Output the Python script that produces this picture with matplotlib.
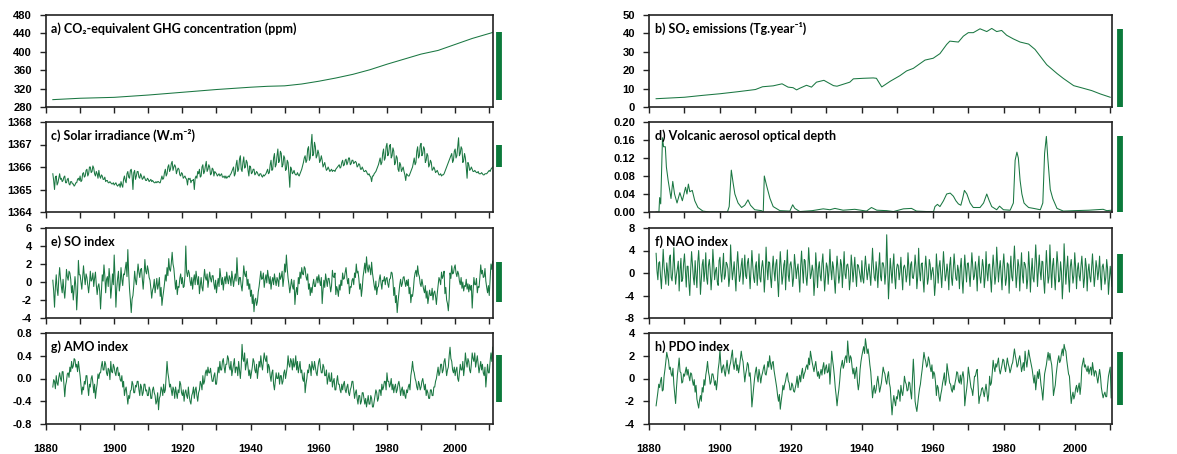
"""Eight-panel overview of climate forcings and modes of variability, 1880-2011."""

import numpy as np
import matplotlib
matplotlib.use("Agg")
import matplotlib.pyplot as plt
from matplotlib.ticker import MultipleLocator, FormatStrFormatter

LINE_GREEN = "#1a7742"
BAR_GREEN = "#0b7a3b"
TITLE_FONT = ["Lato", "DejaVu Sans"]

plt.rcParams["font.family"] = ["Liberation Sans", "DejaVu Sans"]
plt.rcParams["font.weight"] = "bold"
plt.rcParams["axes.unicode_minus"] = False

# ---- a) CO2-equivalent GHG concentration (ppm)
ghg_years = [1882, 1890, 1900, 1910, 1920, 1930, 1940, 1945, 1950, 1955, 1960,
             1965, 1970, 1975, 1980, 1985, 1990, 1995, 2000, 2005, 2011]
ghg_ppm = [296, 299, 301, 306, 312, 318, 323, 325, 326, 330, 336,
           343, 351, 361, 373, 384, 395, 403, 416, 429, 442]

# ---- b) SO2 emissions (Tg/yr)
so2_years = [1882, 1890, 1895, 1900, 1905, 1910, 1912, 1915, 1917.5, 1919.2, 1920.6,
             1921.6, 1922.5, 1924.4, 1925.8, 1927.2, 1929.3, 1932, 1933, 1936.6, 1937.6,
             1940.4, 1943.2, 1944.1, 1945.6, 1948, 1950.7, 1952.6, 1954.5, 1956.4, 1957.8,
             1960.1, 1962, 1963.9, 1964.8, 1967.2, 1968.6, 1970, 1971.4, 1973.3, 1975.2,
             1976.6, 1978, 1979.4, 1980.8, 1982.7, 1984.6, 1987, 1988.8, 1992.1, 1995,
             1996.8, 1999.7, 2002, 2004.8, 2007.2, 2010]
so2_tg = [4.5, 5.3, 6.3, 7.2, 8.3, 9.5, 11.0, 11.5, 12.6, 10.8, 10.5,
          9.3, 10.2, 11.8, 10.8, 13.5, 14.5, 11.6, 11.3, 13.5, 15.3,
          15.6, 15.8, 15.6, 10.9, 14.0, 17.0, 19.6, 21.0, 23.6, 25.5,
          26.5, 29.0, 34.0, 35.8, 35.3, 38.5, 40.4, 40.4, 42.5, 41.0,
          42.7, 41.0, 41.6, 39.0, 37.0, 35.3, 34.2, 31.3, 23.0, 18.2,
          15.5, 11.6, 10.4, 8.9, 7.1, 5.3]

# ---- c) Solar irradiance (W/m2), four values per year from 1882
solar_tsi = [
    1365.7, 1365.4, 1365.0, 1365.55, 1365.6, 1365.2, 1365.3, 1365.5,
    1365.7, 1365.45, 1365.5, 1365.35, 1365.4, 1365.55, 1365.6, 1365.3,
    1365.3, 1365.45, 1365.5, 1365.25, 1365.2, 1365.35, 1365.35, 1365.25,
    1365.25, 1365.15, 1365.2, 1365.3, 1365.3, 1365.45, 1365.5, 1365.4,
    1365.6, 1365.35, 1365.4, 1365.7, 1365.75, 1365.55, 1365.6, 1365.85,
    1365.9, 1365.6, 1365.7, 1366.0, 1366.0, 1365.75, 1365.8, 1366.05,
    1365.95, 1365.7, 1365.6, 1365.8, 1365.7, 1365.5, 1365.85, 1365.6,
    1365.5, 1365.65, 1365.6, 1365.45, 1365.45, 1365.55, 1365.35, 1365.4,
    1365.4, 1365.3, 1365.3, 1365.35, 1365.3, 1365.25, 1365.25, 1365.3,
    1365.2, 1365.25, 1365.3, 1365.2, 1365.15, 1365.2, 1365.25, 1365.1,
    1365.35, 1365.2, 1365.1, 1365.45, 1365.6, 1365.4, 1365.3, 1365.7,
    1365.8, 1365.55, 1365.5, 1365.85, 1365.9, 1365.6, 1365.0, 1365.75,
    1365.85, 1365.45, 1365.6, 1365.8, 1365.8, 1365.55, 1365.5, 1365.7,
    1365.6, 1365.45, 1365.5, 1365.6, 1365.5, 1365.4, 1365.4, 1365.5,
    1365.45, 1365.35, 1365.4, 1365.45, 1365.35, 1365.4, 1365.35, 1365.3,
    1365.3, 1365.35, 1365.3, 1365.35, 1365.35, 1365.3, 1365.3, 1365.45,
    1365.6, 1365.45, 1365.5, 1365.75, 1365.9, 1365.6, 1365.7, 1366.0,
    1366.1, 1365.8, 1365.9, 1366.15, 1366.25, 1365.85, 1366.0, 1366.1,
    1366.0, 1365.7, 1365.85, 1365.95, 1365.9, 1365.65, 1365.6, 1365.75,
    1365.7, 1365.5, 1365.55, 1365.6, 1365.5, 1365.45, 1365.2, 1365.5,
    1365.45, 1365.5, 1365.3, 1365.4, 1365.4, 1365.45, 1365.0, 1365.5,
    1365.6, 1365.5, 1365.8, 1365.7, 1365.9, 1365.55, 1365.6, 1366.0,
    1366.1, 1365.7, 1365.8, 1366.05, 1366.25, 1365.8, 1365.9, 1366.1,
    1366.0, 1365.65, 1365.7, 1365.95, 1365.9, 1365.6, 1365.8, 1365.75,
    1365.7, 1365.6, 1365.65, 1365.7, 1365.6, 1365.65, 1365.7, 1365.55,
    1365.55, 1365.6, 1365.5, 1365.6, 1365.5, 1365.55, 1365.6, 1365.55,
    1365.65, 1365.7, 1365.8, 1365.9, 1366.0, 1365.6, 1365.7, 1366.1,
    1366.3, 1365.8, 1365.9, 1366.35, 1366.5, 1365.9, 1365.8, 1366.2,
    1366.45, 1365.95, 1366.0, 1366.3, 1366.2, 1365.85, 1365.6, 1366.05,
    1366.0, 1365.7, 1365.75, 1365.9, 1365.9, 1365.65, 1365.7, 1365.8,
    1365.75, 1365.65, 1365.6, 1365.7, 1365.7, 1365.6, 1365.55, 1365.65,
    1365.6, 1365.65, 1365.7, 1365.8, 1365.9, 1365.7, 1365.75, 1366.1,
    1366.3, 1365.85, 1365.9, 1366.4, 1366.6, 1366.0, 1366.1, 1366.5,
    1366.8, 1366.2, 1366.3, 1366.7, 1366.6, 1366.0, 1366.1, 1366.5,
    1366.4, 1365.85, 1365.9, 1366.3, 1366.2, 1365.7, 1365.1, 1366.0,
    1365.9, 1365.7, 1365.75, 1365.85, 1365.7, 1365.65, 1365.65, 1365.75,
    1365.65, 1365.6, 1365.7, 1365.8, 1365.9, 1366.05, 1366.2, 1366.4,
    1366.5, 1366.2, 1366.3, 1366.8, 1366.9, 1366.3, 1366.4, 1367.0,
    1367.45, 1366.5, 1366.6, 1367.1, 1366.9, 1366.4, 1366.5, 1366.75,
    1366.6, 1366.2, 1366.3, 1366.5, 1366.3, 1366.0, 1366.1, 1366.2,
    1366.0, 1365.85, 1365.9, 1366.0, 1365.9, 1365.8, 1365.85, 1365.9,
    1365.8, 1365.85, 1365.85, 1365.8, 1365.9, 1365.95, 1366.0, 1366.05,
    1366.1, 1365.95, 1366.0, 1366.2, 1366.3, 1366.05, 1366.1, 1366.3,
    1366.35, 1366.1, 1366.2, 1366.4, 1366.4, 1366.1, 1366.15, 1366.3,
    1366.3, 1366.15, 1366.2, 1366.25, 1366.2, 1366.0, 1366.05, 1366.15,
    1366.1, 1365.9, 1365.9, 1366.0, 1365.9, 1365.8, 1365.8, 1365.85,
    1365.8, 1365.7, 1365.65, 1365.7, 1365.6, 1365.55, 1365.35, 1365.6,
    1365.6, 1365.7, 1365.75, 1365.8, 1365.9, 1366.0, 1366.1, 1366.25,
    1366.4, 1366.1, 1366.2, 1366.6, 1366.8, 1366.3, 1366.4, 1366.9,
    1367.05, 1366.5, 1366.6, 1366.95, 1367.0, 1366.4, 1366.5, 1366.85,
    1366.7, 1366.1, 1366.2, 1366.5, 1366.4, 1365.9, 1365.8, 1366.2,
    1366.1, 1365.8, 1365.9, 1366.0, 1365.8, 1365.65, 1365.4, 1365.7,
    1365.65, 1365.6, 1365.6, 1365.7, 1365.8, 1365.9, 1366.0, 1366.2,
    1366.4, 1366.1, 1366.2, 1366.7, 1366.9, 1366.4, 1366.5, 1366.95,
    1367.05, 1366.5, 1366.6, 1366.9, 1366.8, 1366.2, 1366.3, 1366.6,
    1366.5, 1366.0, 1366.1, 1366.3, 1366.2, 1365.85, 1365.9, 1366.0,
    1365.9, 1365.75, 1365.8, 1365.85, 1365.75, 1365.65, 1365.65, 1365.7,
    1365.6, 1365.65, 1365.65, 1365.7, 1365.8, 1365.9, 1366.0, 1366.1,
    1366.2, 1366.3, 1366.4, 1366.5, 1366.6, 1366.2, 1366.3, 1366.7,
    1366.8, 1366.4, 1366.5, 1366.9, 1367.3, 1366.5, 1366.6, 1366.9,
    1366.8, 1366.2, 1366.3, 1366.6, 1366.4, 1366.0, 1365.5, 1366.2,
    1366.1, 1365.85, 1365.9, 1366.0, 1365.9, 1365.8, 1365.8, 1365.85,
    1365.8, 1365.75, 1365.75, 1365.8, 1365.7, 1365.7, 1365.7, 1365.75,
    1365.7, 1365.65, 1365.65, 1365.7, 1365.7, 1365.7, 1365.75, 1365.8,
    1365.85, 1365.8, 1365.9, 1365.95, 1366.0,
]

# ---- d) Volcanic aerosol optical depth
aod_years = [1882, 1882.8, 1883.0, 1883.3, 1883.8, 1884.1, 1884.6, 1884.9, 1885.4,
             1885.8, 1886.2, 1886.7, 1887.2, 1887.9, 1888.7, 1889.4, 1890.3, 1890.7,
             1891.1, 1891.5, 1892.2, 1892.9, 1893.8, 1895.2, 1897, 1902.1, 1902.6,
             1903.2, 1903.7, 1904.2, 1905.1, 1906.1, 1907, 1907.9, 1908.6, 1909.8,
             1911.7, 1912.2, 1912.5, 1913.1, 1914.1, 1915, 1916.9, 1919.7, 1920.5,
             1921.1, 1922.5, 1926, 1929.1, 1931, 1932.4, 1934.7, 1938, 1941.3,
             1942.7, 1944.2, 1947, 1948.9, 1951.7, 1954, 1955.4, 1958.3, 1960.2,
             1960.6, 1961.3, 1962, 1963, 1963.9, 1964.9, 1965.8, 1966.5, 1967.2,
             1967.9, 1968.4, 1968.9, 1969.6, 1970.5, 1971.4, 1973.3, 1974.3, 1975.2,
             1975.9, 1976.6, 1978, 1978.8, 1979.9, 1981.8, 1982.7, 1983.2, 1983.7,
             1984.1, 1984.6, 1985.1, 1985.7, 1986.3, 1987, 1988.4, 1990.3, 1991,
             1991.5, 1992, 1992.4, 1993.1, 1993.8, 1995, 1996.8, 2000, 2004,
             2008, 2009, 2010.4]
aod_tau = [0.0, 0.0, 0.032, 0.018, 0.165, 0.145, 0.145, 0.10, 0.07,
           0.05, 0.03, 0.068, 0.04, 0.02, 0.043, 0.025, 0.055, 0.04,
           0.062, 0.045, 0.048, 0.025, 0.01, 0.002, 0.0, 0.0, 0.012,
           0.093, 0.065, 0.04, 0.02, 0.01, 0.015, 0.027, 0.015, 0.005,
           0.003, 0.0, 0.08, 0.06, 0.03, 0.012, 0.003, 0.002, 0.016,
           0.008, 0.001, 0.003, 0.007, 0.005, 0.008, 0.004, 0.006, 0.002,
           0.01, 0.004, 0.003, 0.001, 0.007, 0.008, 0.002, 0.001, 0.001,
           0.012, 0.017, 0.012, 0.025, 0.04, 0.042, 0.035, 0.025, 0.018,
           0.015, 0.03, 0.048, 0.04, 0.02, 0.01, 0.01, 0.02, 0.04,
           0.025, 0.012, 0.005, 0.013, 0.005, 0.004, 0.02, 0.115, 0.133,
           0.12, 0.07, 0.04, 0.02, 0.015, 0.01, 0.008, 0.005, 0.02,
           0.13, 0.168, 0.12, 0.05, 0.03, 0.008, 0.002, 0.003, 0.004,
           0.006, 0.003, 0.004]

# ---- e) SO index, four values per year from 1882
soi = [
    0.2, -1.0, -2.8, -0.6, 0.8, -0.8, -1.5, 0.4, 1.6, 0.4, -0.5, -1.2,
    0.3, -0.9, -1.8, -0.5, 1.4, 0.6, 0.2, 1.2, 1.0, 0.3, -1.2, -0.4,
    -2.0, -0.8, 0.6, -0.5, -3.1, -1.2, 2.4, 0.8, 0.8, 0.0, -0.8, 0.5,
    1.8, 0.6, -0.3, 0.9, 0.5, -0.4, -1.2, -0.2, 1.2, 0.1, 0.3, 1.0,
    -0.5, 0.4, 1.1, -0.3, -1.4, -0.5, -0.2, -1.0, -3.0, -1.1, 0.8, 0.1,
    1.9, 0.7, -1.2, 0.3, 0.6, -0.5, 1.5, 0.4, -1.8, -0.6, 0.9, -0.3,
    3.0, 0.5, -2.8, -0.7, 0.4, 1.2, -1.0, -0.2, 1.6, 0.3, -0.4, 0.9,
    0.8, 1.5, 2.2, 0.6, 3.6, 1.0, -0.8, -2.0, -3.4, -1.9, -1.5, -0.4,
    1.2, 0.2, -0.3, 0.8, 2.0, 1.1, 0.5, 1.4, 1.5, 0.3, -0.8, 0.6,
    2.5, 1.2, 0.9, 1.8, 1.3, 0.5, 0.2, -0.7, -1.8, -0.9, -0.6, 0.3,
    -1.2, -0.4, 0.4, -0.8, -0.3, 0.5, -1.6, -0.6, -2.6, -1.7, -1.0, -0.2,
    0.8, 0.1, 1.6, 0.7, 2.6, 1.4, 1.2, 2.1, 3.3, 2.0, 1.5, 0.4,
    -0.8, 0.2, -1.4, -0.5, -0.6, 0.4, 0.9, -0.2, 0.5, -0.6, -0.5, 0.7,
    4.0, 1.1, 0.6, 1.3, 1.0, 0.1, -0.4, 0.5, -0.8, 0.2, 0.8, -0.3,
    1.2, 0.4, -0.3, 0.6, -1.3, -0.4, 0.5, -0.6, -1.0, 0.3, 1.4, 0.5,
    0.2, 0.9, -0.6, 0.3, 1.1, 0.4, 0.0, 0.7, 0.7, -0.2, -0.8, 0.2,
    -1.2, -0.3, 0.4, -0.5, 1.5, 0.6, -0.3, 0.5, -0.9, 0.1, 0.6, -0.2,
    1.1, 0.3, -0.2, 0.7, 0.4, -0.4, 1.2, 0.3, -0.5, 0.3, 0.9, 0.1,
    2.7, 0.8, -0.3, 0.5, 0.5, -0.4, -1.0, 0.2, 1.8, 0.9, 0.6, 1.2,
    -0.4, 0.3, -0.8, -0.2, -1.6, -0.9, -2.4, -1.4, -3.3, -2.0, -1.8, -2.6,
    -2.2, -1.1, -0.5, 0.4, 1.2, 0.3, 0.4, 1.0, -0.6, 0.2, 0.8, -0.1,
    1.3, 0.5, -0.2, 0.6, -0.8, 0.1, 0.5, -0.3, 0.9, 0.2, -0.4, 0.5,
    0.2, -0.5, 1.0, 0.3, 0.6, 1.2, -0.5, 0.4, 2.0, 1.1, 3.0, 1.5,
    0.4, -0.3, -1.2, -0.5, 0.3, -0.4, -0.8, 0.2, -2.5, -1.2, -0.6, -1.4,
    0.5, -0.2, 1.1, 0.4, 1.6, 0.9, 0.8, 1.7, 1.5, 0.6, 0.2, 0.9,
    -0.8, -0.2, -1.5, -0.6, -1.2, -0.3, 0.3, -0.5, -0.5, 0.2, 0.6, -0.1,
    0.8, 0.1, -0.4, 0.5, -2.4, -0.9, 0.2, -0.6, 0.9, 0.2, -0.5, 0.4,
    0.4, -0.3, -1.1, -0.4, 1.3, 0.6, 0.5, 1.0, -1.4, -0.5, -0.9, -1.6,
    -0.3, -0.9, 0.2, -0.4, 1.0, 0.3, 0.4, 1.1, 1.6, 0.5, -0.2, 0.4,
    -1.3, -0.5, -0.6, 0.2, 0.4, -0.3, 1.0, 0.5, 2.0, 1.0, 1.2, 0.4,
    -0.8, -0.2, -1.6, -0.7, 0.6, 1.3, 2.1, 1.0, 2.8, 1.6, 1.1, 1.9,
    1.5, 0.8, 2.2, 1.0, 0.3, -0.4, -0.9, 0.1, -1.4, -0.6, -0.5, 0.3,
    0.8, -0.1, -0.8, 0.2, 0.1, 0.6, -0.3, 0.4, 0.5, -0.2, -0.6, 0.3,
    0.4, 1.1, 1.0, 0.2, -1.5, -0.6, -2.3, -1.5, -3.4, -2.2, -1.2, -0.3,
    0.3, -0.5, -0.2, 0.5, 0.6, 0.0, -0.5, 0.2, -0.4, 0.3, -1.3, -0.6,
    -2.3, -1.4, -1.6, -0.8, 0.4, 1.0, 1.3, 0.6, 1.8, 0.9, 0.6, -0.2,
    -0.5, 0.3, -0.3, -0.8, -1.2, -0.4, -1.8, -1.0, -2.4, -1.6, -0.9, -1.5,
    -1.5, -0.7, -2.0, -1.2, -1.0, -1.6, -2.5, -1.3, -0.4, 0.5, 0.2, -0.3,
    1.1, 0.4, 0.7, 1.2, -1.3, -0.6, -2.0, -2.4, -3.2, -1.8, 1.0, 0.4,
    1.8, 0.9, 1.0, 1.6, 1.9, 1.0, 0.6, 1.2, 0.9, 0.1, -0.3, 0.5,
    -0.7, 0.0, -1.0, -0.4, -0.5, 0.3, -0.8, -0.2, -1.1, -0.3, -0.9, -0.4,
    -2.9, -1.0, 0.5, -0.3, -0.3, 0.4, -1.2, -0.5, -0.6, 0.5, 1.9, 0.9,
    1.3, 0.5, 0.6, 1.5, 0.1, -0.6, -1.2, -0.4, -1.5, 0.3, 2.0, 1.4,
    2.3,
]

# ---- f) NAO index, four values per year from 1882
nao = [
    3.5, 0.4, -1.2, 1.8, 2.0, -0.6, -2.8, 0.9, 4.2, 1.1, -0.5, -2.0,
    1.8, 0.2, -2.2, 2.6, 3.2, -0.8, -1.4, 1.0, 4.5, 0.6, -2.0, -0.3,
    0.8, 2.1, -3.2, 0.5, 2.6, -1.5, -1.0, 1.7, 3.4, 0.3, -2.5, 1.2,
    1.2, -1.8, -4.0, 0.6, 3.8, 1.4, -0.8, -2.1, 2.2, -0.4, -2.6, 1.9,
    4.0, 0.8, -3.8, -1.0, 1.5, 2.4, -1.5, 0.2, 3.6, -0.9, -2.0, 1.3,
    2.4, 0.5, -3.0, -0.6, 4.2, 1.6, -1.2, 0.4, 1.0, -1.6, -2.2, 2.2,
    2.8, 0.0, -1.6, 1.1, 3.5, -1.1, -0.5, 1.9, 1.6, 0.7, -2.4, -0.8,
    5.0, 1.5, -1.2, 0.3, 2.0, -0.7, -3.2, 1.4, 3.8, 0.9, -1.5, -0.4,
    1.4, 2.6, -2.0, 0.6, 3.2, -0.5, -1.0, 1.8, 2.6, 0.1, -2.8, 0.8,
    4.0, 1.3, -0.8, -1.7, 1.2, 2.0, -2.2, 0.2, 3.4, -0.9, -1.6, 1.0,
    2.2, 0.6, -3.4, -0.5, 4.6, 1.0, -1.2, 2.0, 1.8, -0.8, -2.6, 0.7,
    3.0, 0.4, -1.4, 1.6, 2.4, -1.3, -4.2, 0.3, 3.8, 1.2, -2.0, -0.6,
    1.5, 2.2, -3.0, 0.9, 4.1, -0.4, -1.5, 1.5, 2.0, 0.5, -2.4, -0.9,
    3.3, 1.4, -1.0, 0.6, 1.6, -1.0, -3.4, 1.2, 3.9, 0.7, -1.8, 2.4,
    2.2, -0.6, -2.2, 0.4, 4.5, 1.8, -1.0, -0.2, 1.4, 0.3, -4.0, -1.5,
    3.6, 1.0, -2.6, 0.8, 2.0, -0.5, -1.4, 1.7, 3.4, 0.2, -3.2, -0.7,
    1.8, 1.1, -2.0, 0.5, 4.2, 0.6, -1.2, 2.0, 1.0, -1.4, -3.6, 0.3,
    3.0, 0.9, -1.8, -0.5, 2.4, 1.5, -2.6, 0.8, 3.8, -0.2, -1.0, 1.4,
    1.6, 0.4, -3.0, -1.1, 3.2, 1.2, -1.6, 0.6, 2.8, -0.3, -2.4, 1.5,
    1.4, 0.5, -0.6, -1.6, 2.2, -0.9, -1.8, 0.7, 3.0, 1.0, -1.2, 0.2,
    1.6, -0.4, -2.2, 1.3, 4.4, 1.2, -0.8, -1.4, 2.0, 0.3, -2.6, 0.9,
    3.6, -0.6, -1.4, 1.8, 1.8, 0.8, -2.0, 0.1, 6.8, 1.0, -4.6, -0.8,
    2.6, 0.5, -1.8, 1.2, 3.4, -0.7, -2.8, 0.6, 1.6, 1.3, -1.2, 0.2,
    2.8, -0.4, -3.0, 1.0, 1.4, 0.6, -1.6, -0.3, 3.6, 0.9, -2.2, 1.5,
    2.0, -0.8, -1.0, 0.4, 3.2, 1.1, -2.8, -0.6, 4.4, 0.2, -1.4, 1.6,
    1.8, -1.2, -3.4, 0.5, 3.0, 0.8, -2.0, -0.9, 2.4, 1.5, -1.2, 0.3,
    1.0, -0.6, -4.0, -1.8, 3.4, 0.7, -1.8, 1.1, 2.2, -0.3, -2.6, 0.6,
    3.8, 1.2, -1.4, -0.4, 1.6, 0.1, -3.0, 1.4, 2.8, -0.8, -2.2, 0.5,
    3.4, 1.0, -1.0, -1.3, 1.4, 0.4, -2.8, 0.9, 2.6, -1.1, -3.6, 0.2,
    3.2, 0.6, -1.6, 1.7, 1.8, -0.2, -2.4, 0.8, 3.6, 1.3, -1.2, -0.5,
    2.0, 0.4, -3.2, 1.0, 3.0, -0.6, -1.8, 0.3, 2.4, 1.1, -2.6, -0.8,
    3.8, 0.2, -1.4, 1.5, 1.6, -1.0, -3.4, 0.4, 3.2, 0.9, -2.0, -0.6,
    4.6, 1.4, -1.6, 0.7, 2.2, -0.5, -3.0, 1.2, 3.4, 0.6, -2.2, -1.0,
    1.8, 1.5, -3.6, 0.3, 3.0, -0.7, -1.4, 1.6, 4.8, 0.9, -2.6, -0.4,
    2.4, 1.2, -3.2, 0.5, 3.6, -0.4, -1.8, 1.9, 1.6, 0.6, -2.8, -1.1,
    3.8, 1.0, -3.4, 0.2, 2.6, -0.9, -1.6, 1.4, 5.0, 1.7, -2.4, 0.6,
    3.2, 0.3, -1.2, 2.1, 2.0, -1.3, -3.6, 0.4, 4.0, 1.1, -1.8, -0.7,
    5.0, 0.8, -2.6, 1.3, 2.6, -0.6, -3.0, 0.5, 3.8, 1.6, -1.6, -1.2,
    2.0, 0.2, -4.6, -1.5, 5.2, 1.3, -2.0, 0.7, 3.0, -0.8, -3.4, 1.1,
    2.4, 0.5, -1.8, -0.4, 3.6, 1.0, -2.8, 0.6, 1.8, -0.5, -1.4, 1.2,
    3.0, 0.4, -2.6, -0.9, 2.6, 1.2, -3.2, 0.3, 1.6, -0.7, -1.6, 0.9,
    3.4, 0.5, -2.4, -0.5, 2.2, 1.0, -1.2, 0.4, 3.0, -0.6, -3.0, 1.1,
    1.6, 0.2, -2.0, -0.8, 2.4, 0.8, -3.8, -1.2, 1.2, -0.5, -2.4,
]

# ---- g) AMO index, four values per year from 1882
amo = [
    -0.15, -0.02, -0.05, -0.18, 0.05, -0.08, -0.12, 0.02, 0.1, 0.0, -0.05, 0.12,
    0.12, -0.1, -0.32, -0.12, -0.05, 0.08, 0.1, 0.02, 0.2, 0.12, 0.3, 0.18,
    0.22, 0.35, 0.33, 0.2, 0.25, 0.12, 0.3, 0.18, 0.05, -0.12, -0.28, -0.15,
    -0.2, -0.05, -0.1, 0.05, 0.05, -0.15, -0.3, -0.1, -0.15, 0.0, 0.05, -0.08,
    -0.25, -0.1, -0.35, -0.2, -0.1, 0.08, 0.0, 0.1, 0.1, 0.22, 0.3, 0.15,
    0.15, 0.3, 0.25, 0.1, 0.05, 0.18, 0.15, -0.02, 0.3, 0.12, 0.1, 0.25,
    0.2, 0.1, 0.05, 0.18, 0.2, 0.05, 0.1, -0.02, -0.05, 0.05, -0.15, -0.05,
    -0.3, -0.2, -0.15, -0.3, -0.45, -0.3, -0.35, -0.22, -0.2, -0.05, -0.1, -0.25,
    -0.25, -0.12, -0.15, -0.05, -0.05, -0.2, -0.3, -0.1, -0.15, -0.3, -0.25, -0.1,
    -0.1, -0.22, -0.2, -0.3, -0.3, -0.15, -0.2, -0.35, -0.35, -0.2, -0.15, -0.25,
    -0.3, -0.45, -0.4, -0.25, -0.55, -0.35, -0.3, -0.15, -0.2, -0.3, -0.1, -0.25,
    -0.2, 0.05, 0.3, 0.1, 0.0, -0.15, -0.1, -0.2, -0.3, -0.15, -0.2, -0.35,
    -0.15, -0.25, -0.35, -0.2, -0.25, -0.05, -0.1, -0.25, -0.3, -0.2, -0.4, -0.25,
    -0.2, -0.3, -0.35, -0.15, -0.3, -0.4, -0.45, -0.3, -0.25, -0.15, -0.35, -0.2,
    -0.15, -0.3, -0.4, -0.25, -0.2, -0.05, -0.1, -0.2, 0.05, -0.1, -0.05, 0.1,
    0.15, 0.05, 0.2, 0.1, 0.1, 0.18, 0.05, -0.05, -0.05, 0.05, 0.1, -0.1,
    -0.1, 0.05, 0.2, 0.1, 0.3, 0.15, 0.15, 0.3, 0.35, 0.2, 0.1, 0.25,
    0.25, 0.4, 0.35, 0.2, 0.15, 0.3, 0.05, 0.15, 0.25, 0.35, 0.1, 0.2,
    0.2, 0.05, 0.3, 0.15, 0.0, 0.2, 0.6, 0.35, 0.3, 0.45, 0.15, 0.25,
    0.35, 0.2, 0.05, 0.15, 0.0, 0.1, 0.2, 0.35, 0.3, 0.15, 0.1, 0.25,
    0.0, 0.15, 0.3, 0.2, 0.4, 0.25, 0.15, 0.3, 0.45, 0.35, 0.3, 0.4,
    0.1, 0.25, 0.2, 0.05, -0.05, 0.1, 0.15, -0.1, -0.2, -0.05, 0.1, 0.0,
    0.0, 0.1, -0.1, 0.05, 0.05, -0.1, -0.05, 0.1, 0.15, 0.0, 0.1, 0.2,
    0.4, 0.25, 0.2, 0.35, 0.3, 0.15, 0.35, 0.2, 0.25, 0.4, 0.15, 0.3,
    0.1, 0.2, 0.3, 0.1, 0.15, 0.0, -0.05, 0.1, -0.25, -0.1, 0.0, 0.15,
    0.1, 0.25, 0.2, 0.05, 0.3, 0.2, 0.15, 0.3, 0.2, 0.1, 0.05, 0.2,
    0.3, 0.35, 0.2, 0.1, 0.1, 0.25, 0.2, 0.05, 0.05, 0.15, -0.1, 0.0,
    0.1, -0.05, -0.05, 0.1, -0.15, -0.05, 0.0, -0.2, -0.2, -0.05, 0.05, -0.1,
    -0.1, -0.2, -0.25, -0.1, -0.2, -0.1, -0.05, -0.2, -0.25, -0.15, -0.1, -0.25,
    -0.3, -0.2, -0.15, -0.05, -0.05, -0.2, -0.35, -0.25, -0.2, -0.35, -0.45, -0.3,
    -0.3, -0.45, -0.4, -0.25, -0.25, -0.35, -0.45, -0.35, -0.5, -0.4, -0.3, -0.45,
    -0.45, -0.3, -0.35, -0.5, -0.5, -0.4, -0.3, -0.2, -0.25, -0.4, -0.35, -0.2,
    -0.2, -0.3, -0.1, -0.2, -0.15, -0.05, -0.05, -0.2, 0.1, -0.05, -0.05, -0.15,
    -0.1, 0.0, -0.2, -0.1, -0.25, -0.15, -0.1, -0.25, -0.2, -0.1, -0.05, -0.15,
    -0.3, -0.2, -0.15, -0.3, -0.2, -0.3, -0.35, -0.2, -0.25, -0.15, -0.1, -0.2,
    0.05, 0.15, 0.3, 0.15, 0.1, 0.0, -0.05, -0.15, -0.2, -0.05, -0.1, -0.2,
    -0.15, -0.05, 0.0, -0.1, -0.2, -0.1, -0.3, -0.2, -0.25, -0.35, -0.35, -0.2,
    -0.2, -0.3, -0.3, -0.15, -0.15, -0.05, 0.0, 0.1, 0.2, 0.05, 0.1, 0.25,
    0.25, 0.1, 0.15, 0.3, 0.35, 0.2, 0.05, 0.15, 0.2, 0.4, 0.55, 0.35,
    0.3, 0.15, 0.1, 0.2, 0.05, 0.15, 0.2, 0.0, -0.05, 0.1, 0.25, 0.15,
    0.15, 0.3, 0.05, 0.2, 0.45, 0.3, 0.2, 0.35, 0.3, 0.15, 0.1, 0.25,
    0.45, 0.35, 0.3, 0.45, 0.2, 0.3, 0.4, 0.25, 0.1, 0.2, 0.3, 0.15,
    0.25, 0.1, 0.05, 0.2, -0.15, 0.05, 0.25, 0.1, 0.1, 0.3, 0.45, 0.3,
    0.55,
]

# ---- h) PDO index, four values per year from 1882
pdo = [
    -2.4, -1.8, -1.2, -0.5, -0.8, -0.2, 0.1, -1.1, -1.0, 0.2, 0.8, 1.5,
    2.3, 1.9, 1.6, 0.8, 1.0, 0.4, 0.2, 0.9, -0.5, -1.4, -2.2, -0.8,
    0.3, 1.0, 1.8, 0.6, 0.5, -0.4, -0.3, 0.4, 0.2, 0.6, 1.0, 0.3,
    0.8, 0.2, -0.2, 0.5, 0.4, -0.2, -0.6, -0.1, -1.2, -0.6, -1.8, -2.2,
    -2.6, -1.9, -1.5, -2.0, -0.8, -1.2, -0.1, -0.6, 0.3, 0.8, 1.5, 0.6,
    0.2, -0.5, -0.3, 0.4, 0.4, 0.0, -0.6, -0.2, -1.0, -0.3, 0.8, 1.4,
    2.5, 1.2, 0.5, 1.0, 1.2, 0.6, 0.2, 0.9, 1.6, 0.8, 0.4, 1.1,
    1.4, 2.0, 2.5, 1.3, 0.8, 1.4, 1.8, 0.7, 1.2, 0.5, 1.0, 1.7,
    2.4, 1.8, 1.5, 0.6, -0.3, 0.4, 0.8, 1.4, 1.2, 0.2, 0.5, -0.6,
    -2.5, -1.6, -0.8, 0.0, 0.6, 1.0, 0.2, -0.3, 0.8, 0.3, -0.4, 0.2,
    0.5, 0.9, 1.2, 0.4, 0.3, 0.8, 1.5, 1.0, 2.0, 1.3, 0.8, 1.4,
    1.5, 0.7, 0.2, -0.3, -0.8, -1.5, -2.0, -1.4, -2.7, -2.0, -1.4, -0.6,
    -1.0, -0.5, -0.2, 0.3, 0.5, -0.2, -0.4, -1.0, -1.0, -0.4, -0.6, -1.1,
    -1.2, -0.8, -0.4, 0.2, -0.8, -0.2, 0.3, -0.3, 0.5, 0.9, 0.0, 0.4,
    0.6, 1.0, 1.2, 0.8, 1.8, 1.2, 2.4, 1.9, 1.4, 1.0, 0.6, 1.1,
    1.5, 0.8, 0.2, 0.6, 0.0, 0.4, 0.8, 0.3, 1.0, 1.4, 0.4, 0.9,
    1.2, 0.5, 0.6, 1.3, -0.5, 0.8, 2.4, 1.6, 1.0, 0.2, -0.8, -1.5,
    -2.4, -1.6, -1.0, -0.2, 0.8, 1.2, 1.6, 0.9, 1.2, 1.8, 2.0, 1.4,
    3.3, 2.2, 1.4, 2.0, 1.8, 1.0, 0.4, 0.9, 0.0, 0.6, 1.0, -0.3,
    -1.0, -0.4, 0.8, 1.5, 2.0, 2.4, 2.8, 2.2, 3.5, 2.9, 2.2, 2.6,
    2.0, 1.2, 0.6, -0.5, -1.7, -1.0, -0.6, -1.3, -1.0, -0.3, 0.2, -0.5,
    -1.2, -0.8, -0.4, 0.3, 1.0, 0.6, 0.4, -0.2, -0.5, 0.2, 0.6, -0.4,
    -0.8, -2.0, -3.2, -2.2, -1.5, -2.0, -2.4, -1.6, -1.8, -1.0, -1.2, -2.0,
    -0.6, -1.2, -1.5, -0.8, 0.2, -0.3, -0.5, -1.1, -1.0, -0.3, -0.4, -1.2,
    -1.8, 0.0, 1.7, 0.2, -2.0, -2.5, -2.9, -2.2, -1.5, -0.9, -0.5, 0.2,
    0.8, 1.6, 2.3, 1.8, 1.5, 1.0, 1.2, 1.9, 1.6, 1.0, 0.6, 1.2,
    0.0, 0.6, 0.4, -0.3, -1.5, -0.6, -0.8, -1.6, -2.0, -1.4, -1.0, -0.4,
    0.0, 0.5, -0.6, -0.2, 1.3, 0.7, 0.2, -0.4, -0.5, -1.0, -1.2, -0.6,
    -1.0, -0.4, 0.0, 0.6, 0.5, -0.2, -0.4, 0.3, -0.5, 0.2, 0.6, 0.0,
    -2.4, -1.6, -1.0, -0.3, 1.0, 0.4, -0.2, -0.8, -1.0, -1.5, -0.6, 0.2,
    0.2, 0.6, 0.8, -0.6, -2.2, -1.6, -1.4, -0.9, -0.8, -1.2, -1.6, -1.0,
    -0.5, -1.2, -2.0, -1.4, 0.2, -0.6, -0.4, 0.5, 1.6, 1.0, 0.6, 1.3,
    1.0, 1.4, 1.8, 0.8, 0.4, 0.8, 1.2, 1.7, 1.6, 1.0, 0.6, 1.2,
    1.8, 1.3, 1.0, 0.5, 0.8, 1.2, 1.4, 2.0, 2.6, 2.0, 1.6, 1.0,
    1.2, 1.7, 2.0, 1.4, 0.6, 1.0, 1.4, 0.7, 2.4, 1.6, 1.0, 1.8,
    2.5, 2.0, 1.6, 1.2, 0.8, 0.2, -0.4, 0.3, -1.0, -0.2, 0.6, 0.0,
    0.8, 0.2, -0.6, -1.1, -1.9, -0.8, 0.4, 0.8, 1.2, 1.8, 2.3, 1.6,
    2.2, 1.6, 1.2, 0.2, -1.5, -1.0, -0.6, 0.3, 1.0, 1.6, 2.0, 1.4,
    1.6, 2.2, 2.6, 2.0, 3.0, 2.6, 2.4, 1.6, 1.0, 0.4, 0.2, -1.0,
    -2.2, -1.6, -1.2, -1.8, -1.5, -0.9, -0.6, -1.2, -0.8, -0.4, -1.4, -0.6,
    1.0, 1.4, 1.8, 1.0, 1.2, 0.8, 0.6, 1.1, 0.4, 0.8, 1.0, 0.3,
    1.4, 0.8, 0.2, 0.7, 0.6, 0.1, -0.4, 0.2, 0.8, 0.2, -0.8, -1.3,
    -1.7, -1.4, -1.2, -1.6, -1.6, -0.6, 0.2, 0.6, 1.0, -1.7,
]

# vertical green bars to the right of each panel (low, high)
range_bars = {
    "ghg": (295, 443), "so2": (0, 42.5), "solar": (1366.0, 1367.0),
    "aod": (0, 0.168), "soi": (-2.2, 2.2), "nao": (-3.5, 3.4),
    "amo": (-0.41, 0.41), "pdo": (-2.3, 2.33),
}


def quarter_axis(values, start=1882):
    return start + 0.25 * np.arange(len(values))


def style_panel(ax, title, ylim, ystep, yfmt, xmax, bar, bar_x, bottom_row):
    ax.set_xlim(1880, xmax)
    ax.set_ylim(*ylim)
    ax.xaxis.set_major_locator(MultipleLocator(20))
    ax.xaxis.set_minor_locator(MultipleLocator(10))
    ax.yaxis.set_major_locator(MultipleLocator(ystep))
    ax.yaxis.set_major_formatter(FormatStrFormatter(yfmt))
    ax.tick_params(which="both", direction="out", length=4, width=1,
                   labelsize=8, color="#222222")
    ax.tick_params(axis="y", pad=6)
    ax.tick_params(axis="x", pad=10.5, labelbottom=bottom_row)
    for side in ax.spines.values():
        side.set_linewidth(1.2)
        side.set_color("#222222")
    ax.text(0.012, 0.92, title, transform=ax.transAxes, ha="left", va="top",
            fontsize=9, fontweight="bold", family=TITLE_FONT)
    ax.vlines(bar_x, bar[0], bar[1], transform=ax.get_yaxis_transform(),
              colors=BAR_GREEN, linewidth=4.2, clip_on=False)


fig = plt.figure(figsize=(11.77, 4.54), dpi=100)
W, H = 1177.0, 454.0
col_px = [(46, 493), (649, 1112)]
row_px = [(15, 107), (122, 212), (228, 318), (333, 424)]


def panel(row, col):
    x0, x1 = col_px[col]
    y0, y1 = row_px[row]
    return fig.add_axes([x0 / W, 1 - y1 / H, (x1 - x0) / W, (y1 - y0) / H])


lw = 0.75

ax = panel(0, 0)
ax.plot(ghg_years, ghg_ppm, color=LINE_GREEN, lw=lw)
style_panel(ax, "a) CO₂-equivalent GHG concentration (ppm)", (280, 480), 40, "%d",
            2011.1, range_bars["ghg"], 1.0134, False)

ax = panel(0, 1)
ax.plot(so2_years, so2_tg, color=LINE_GREEN, lw=lw)
style_panel(ax, "b) SO₂ emissions (Tg.year⁻¹)", (0, 50), 10, "%d",
            2010.5, range_bars["so2"], 1.017, False)

ax = panel(1, 0)
ax.plot(quarter_axis(solar_tsi), solar_tsi, color=LINE_GREEN, lw=lw)
style_panel(ax, "c) Solar irradiance (W.m⁻²)", (1364, 1368), 1, "%d",
            2011.1, range_bars["solar"], 1.0134, False)

ax = panel(1, 1)
ax.plot(aod_years, aod_tau, color=LINE_GREEN, lw=lw)
style_panel(ax, "d) Volcanic aerosol optical depth", (0, 0.2), 0.04, "%.2f",
            2010.5, range_bars["aod"], 1.017, False)

ax = panel(2, 0)
ax.plot(quarter_axis(soi), soi, color=LINE_GREEN, lw=lw)
style_panel(ax, "e) SO index", (-4, 6), 2, "%d",
            2011.1, range_bars["soi"], 1.0134, False)

ax = panel(2, 1)
ax.plot(quarter_axis(nao), nao, color=LINE_GREEN, lw=lw)
style_panel(ax, "f) NAO index", (-8, 8), 4, "%d",
            2010.5, range_bars["nao"], 1.017, False)

ax = panel(3, 0)
ax.plot(quarter_axis(amo), amo, color=LINE_GREEN, lw=lw)
style_panel(ax, "g) AMO index", (-0.8, 0.8), 0.4, "%.1f",
            2011.1, range_bars["amo"], 1.0134, True)

ax = panel(3, 1)
ax.plot(quarter_axis(pdo), pdo, color=LINE_GREEN, lw=lw)
style_panel(ax, "h) PDO index", (-4, 4), 2, "%d",
            2010.5, range_bars["pdo"], 1.017, True)

fig.savefig("out.png", dpi=100)
